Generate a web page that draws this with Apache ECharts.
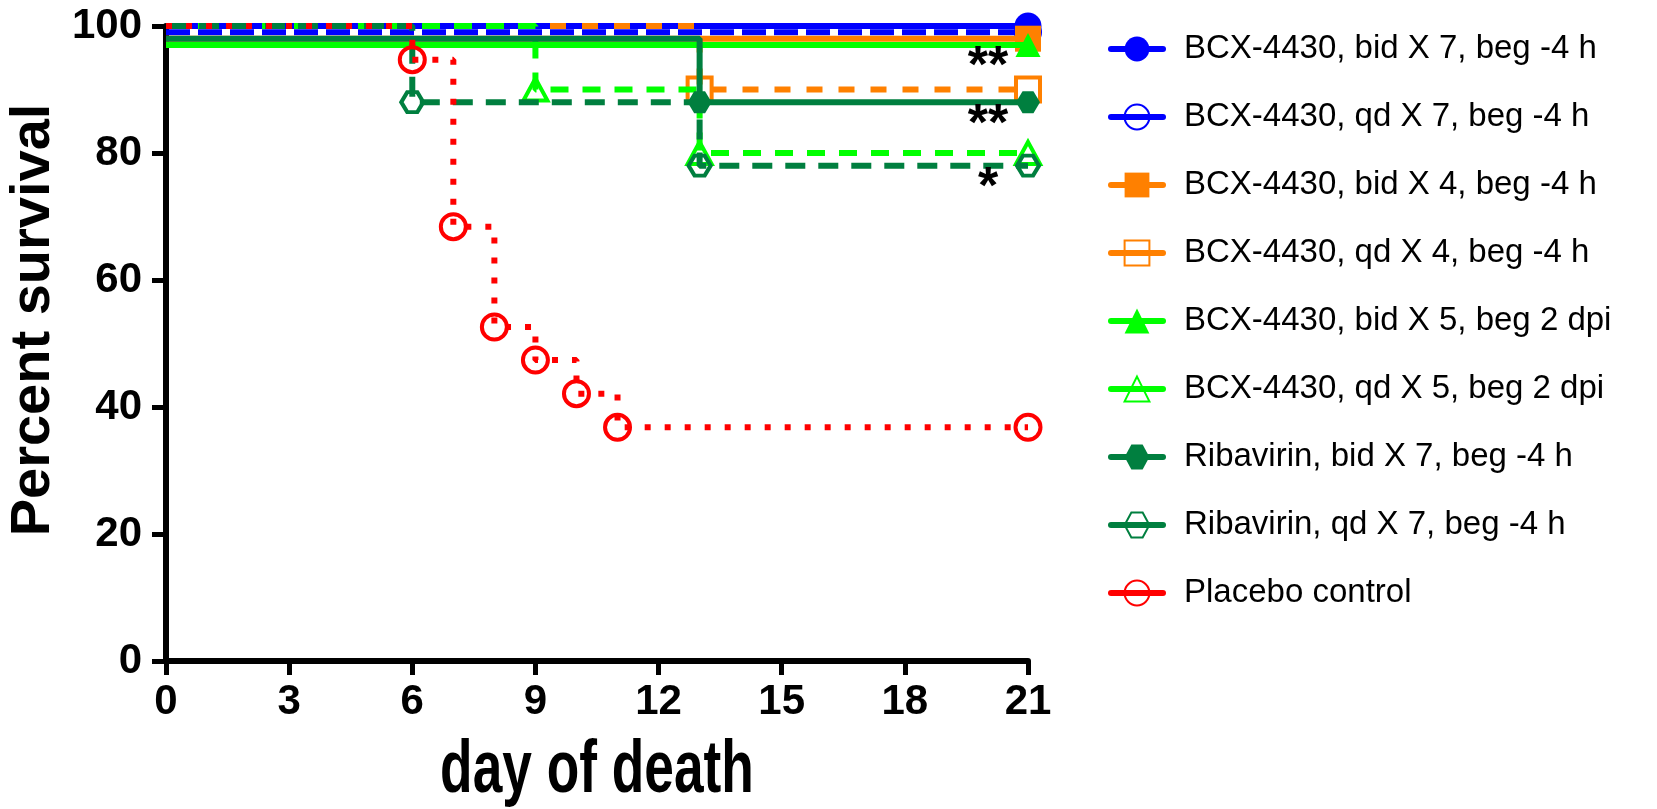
<!DOCTYPE html>
<html>
<head>
<meta charset="utf-8">
<script src="https://cdn.jsdelivr.net/npm/echarts@6/dist/echarts.min.js"></script>
<style>
  html, body { margin: 0; padding: 0; background: #fff; }
  #chart { width: 1657px; height: 809px; }
</style>
</head>
<body>
<div id="chart"></div>
<script>
// Kaplan-Meier survival, percent alive by day post infection
const dayTicks = [0, 3, 6, 9, 12, 15, 18, 21];
const percentTicks = [0, 20, 40, 60, 80, 100];

const groupNames = [
  'BCX-4430, bid X 7, beg -4 h',
  'BCX-4430, qd X 7, beg -4 h',
  'BCX-4430, bid X 4, beg -4 h',
  'BCX-4430, qd X 4, beg -4 h',
  'BCX-4430, bid X 5, beg 2 dpi',
  'BCX-4430, qd X 5, beg 2 dpi',
  'Ribavirin, bid X 7, beg -4 h',
  'Ribavirin, qd X 7, beg -4 h',
  'Placebo control'
];

// [day, percent survival] at each step of each curve
const bcxBid7 = [[0, 100], [21, 100]];
const bcxQd7 = [[0, 99], [21, 99]];
const bcxBid4 = [[0, 98], [21, 98]];
const bcxQd4 = [[0, 100], [13, 90], [21, 90]];
const bcxBid5 = [[0, 97], [21, 97]];
const bcxQd5 = [[0, 100], [9, 90], [13, 80], [21, 80]];
const ribBid7 = [[0, 98], [13, 88], [21, 88]];
const ribQd7 = [[0, 100], [6, 88], [13, 78], [21, 78]];
const placebo = [[0, 100], [6, 94.7], [7, 68.4], [8, 52.6], [9, 47.4], [10, 42.1], [11, 36.8], [21, 36.8]];

// significance marks, each set beside the final point of a curve
const sigText = ['**', '**', '*'];
const sigCurves = [bcxBid5, ribBid7, ribQd7];

const BLUE = '#0000ff', ORANGE = '#ff8000', GREEN = '#00ff00', DKGREEN = '#007f3f', RED = '#ff0000';
const HEX = 'path://M0,10 L6,0 L16,0 L22,10 L16,20 L6,20 Z';
const FONT = 'Liberation Sans, Arial, sans-serif';

const styles = [
  { data: bcxBid7, color: BLUE, symbol: 'circle', size: 27, open: false, dash: 'solid' },
  { data: bcxQd7, color: BLUE, symbol: 'circle', size: 24, open: true, dash: [24, 8] },
  { data: bcxBid4, color: ORANGE, symbol: 'rect', size: 26, open: false, dash: 'solid' },
  { data: bcxQd4, color: ORANGE, symbol: 'rect', size: 24, open: true, dash: [16, 16] },
  { data: bcxBid5, color: GREEN, symbol: 'triangle', size: [25, 24], open: false, dash: 'solid' },
  { data: bcxQd5, color: GREEN, symbol: 'triangle', size: [24, 22], open: true, dash: [18, 14] },
  { data: ribBid7, color: DKGREEN, symbol: HEX, size: [24, 22], open: false, dash: 'solid' },
  { data: ribQd7, color: DKGREEN, symbol: HEX, size: [22, 20], open: true, dash: [20, 13] },
  { data: placebo, color: RED, symbol: 'circle', size: 25, open: true, dash: [6, 14] }
];

const series = styles.map((s, k) => ({
  name: groupNames[k],
  type: 'line',
  step: 'end',
  clip: false,
  symbol: s.symbol,
  symbolSize: s.size,
  // the starting point carries no marker; every later step and the end does
  data: s.data.map((p, i) => i === 0 ? { value: p, symbol: 'none' } : p),
  lineStyle: { color: s.color, width: 6, type: s.dash, cap: 'butt' },
  itemStyle: s.open
    ? { color: 'rgba(255,255,255,0)', borderColor: s.color, borderWidth: 4 }
    : { color: s.color, borderWidth: 0 },
  emphasis: { disabled: true },
  animation: false,
  z: 2 + k
}));

const chart = echarts.init(document.getElementById('chart'), null, { renderer: 'canvas' });

const tickFont = { fontFamily: FONT, fontWeight: 'bold', fontSize: 42, color: '#000' };

const axisTitles = [
  {
    type: 'text',
    x: 34, y: 320,
    rotation: Math.PI / 2,
    style: {
      text: 'Percent survival',
      fontFamily: FONT,
      fontWeight: 'bold',
      fontSize: 56,
      fill: '#000',
      align: 'center',
      verticalAlign: 'middle'
    }
  },
  {
    type: 'text',
    x: 597, y: 772,
    scaleX: 0.72,
    style: {
      text: 'day of death',
      fontFamily: FONT,
      fontWeight: 'bold',
      fontSize: 74,
      fill: '#000',
      align: 'center',
      verticalAlign: 'middle'
    }
  }
];

chart.setOption({
  backgroundColor: '#fff',
  animation: false,
  grid: { left: 166, right: 629, top: 26, bottom: 148, containLabel: false },
  xAxis: {
    type: 'value',
    min: dayTicks[0],
    max: dayTicks[dayTicks.length - 1],
    interval: dayTicks[1] - dayTicks[0],
    splitLine: { show: false },
    axisLine: { show: true, onZero: false, lineStyle: { color: '#000', width: 6 } },
    axisTick: { show: true, length: 14, lineStyle: { color: '#000', width: 5 } },
    axisLabel: Object.assign({ margin: 20 }, tickFont)
  },
  yAxis: {
    type: 'value',
    min: percentTicks[0],
    max: percentTicks[percentTicks.length - 1],
    interval: percentTicks[1] - percentTicks[0],
    splitLine: { show: false },
    axisLine: { show: true, onZero: false, lineStyle: { color: '#000', width: 6 } },
    axisTick: { show: true, length: 14, lineStyle: { color: '#000', width: 5 } },
    axisLabel: Object.assign({ margin: 24 }, tickFont)
  },
  legend: {
    data: groupNames,
    orient: 'vertical',
    left: 1103,
    top: 24,
    itemWidth: 52,
    itemHeight: 31,
    itemGap: 28,
    selectedMode: false,
    lineStyle: { type: 'solid', width: 6, cap: 'round' },
    textStyle: {
      fontFamily: FONT,
      fontSize: 33,
      color: '#000',
      lineHeight: 40,
      padding: [0, 0, 0, 16]
    }
  },
  graphic: axisTitles,
  series: series
});

// asterisks sit just left of and below the end marker of their curve
const sigMarks = sigCurves.map((c, i) => {
  const end = chart.convertToPixel({ gridIndex: 0 }, c[c.length - 1]);
  return {
    type: 'text',
    x: end[0] - 40,
    y: end[1] + 23,
    z: 100,
    style: {
      text: sigText[i],
      fontFamily: FONT,
      fontWeight: 'bold',
      fontSize: 52,
      fill: '#000',
      align: 'center',
      verticalAlign: 'middle'
    }
  };
});

chart.setOption({ graphic: axisTitles.concat(sigMarks) });
</script>
</body>
</html>
